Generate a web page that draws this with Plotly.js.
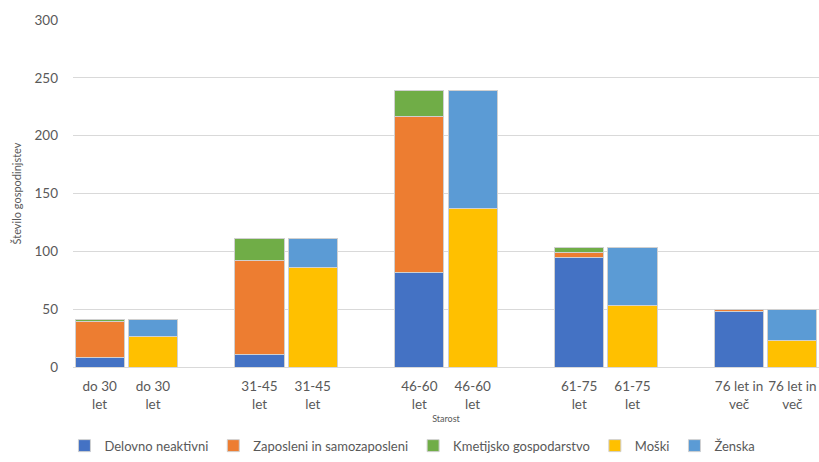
<!DOCTYPE html>
<html><head><meta charset="utf-8">
<script src="https://cdn.plot.ly/plotly-3.0.1.min.js"></script>
<style>html,body{margin:0;padding:0;background:#fff}#chart{width:819px;height:462px}</style>
</head><body><div id="chart"></div>
<script>
const categories = ["do 30<br>let", "31-45<br>let", "46-60<br>let", "61-75<br>let", "76 let in<br>več"];
const delovnoNeaktivni = [8, 11, 82, 95, 48];
const zaposleni = [31, 81, 135, 4, 2];
const kmetijsko = [2, 19, 22, 4, 0];
const moski = [26, 86, 137, 53, 23];
const zenska = [15, 25, 102, 50, 27];

const pos1 = categories.map((c, i) => i * 3);
const pos2 = categories.map((c, i) => i * 3 + 1);
const line = {color: '#d0d0d0', width: 1};
const font = "Lato, 'Noto Sans', sans-serif";

const traces = [
  {name: 'Delovno neaktivni', x: pos1, y: delovnoNeaktivni, color: '#4472C4'},
  {name: 'Zaposleni in samozaposleni', x: pos1, y: zaposleni, color: '#ED7D31'},
  {name: 'Kmetijsko gospodarstvo', x: pos1, y: kmetijsko, color: '#70AD47'},
  {name: 'Moški', x: pos2, y: moski, color: '#FFC000'},
  {name: 'Ženska', x: pos2, y: zenska, color: '#5B9BD5'}
].map(t => ({type: 'bar', name: t.name, x: t.x, y: t.y, marker: {color: t.color, line: line}, hoverinfo: 'name+y'}));

const layout = {
  width: 819, height: 462,
  margin: {l: 73, r: 0, t: 20, b: 95},
  barmode: 'stack', bargap: 0.08,
  paper_bgcolor: '#fff', plot_bgcolor: '#fff',
  font: {family: font, color: '#595959', size: 13},
  xaxis: {
    range: [-0.5, 13.5],
    tickmode: 'array',
    tickvals: pos1.concat(pos2),
    ticktext: categories.concat(categories),
    showgrid: false, zeroline: false,
    showline: true, linecolor: '#d9d9d9',
    ticks: '', ticklabelstandoff: 7, tickfont: {size: 13.5, color: '#595959'},
    title: {text: 'Starost', font: {size: 9, color: '#595959'}, standoff: 4}
  },
  yaxis: {
    range: [0, 300], dtick: 50,
    showgrid: true, gridcolor: '#d9d9d9', zeroline: false,
    ticks: '', ticklabelstandoff: 14, tickfont: {size: 13.5, color: '#595959'},
    title: {text: 'Število gospodinjstev', font: {size: 11, color: '#595959'}, standoff: 10}
  },
  legend: {
    orientation: 'h', x: 0.455, xanchor: 'center',
    y: -0.27, yanchor: 'bottom',
    font: {size: 13, color: '#595959'}, traceorder: 'normal',
    itemwidth: 30
  },
  showlegend: true
};
Plotly.newPlot('chart', traces, layout, {displayModeBar: false, staticPlot: true});
</script></body></html>
